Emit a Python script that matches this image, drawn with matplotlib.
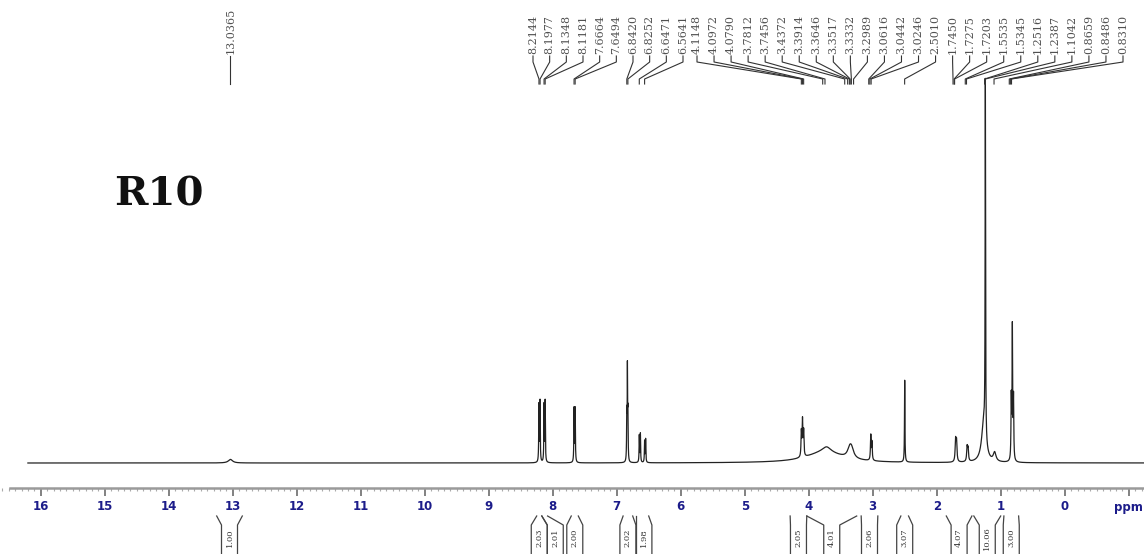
import numpy as np
import matplotlib.pyplot as plt
from matplotlib.ticker import MultipleLocator

W, H = 1144, 554

# reference scale: 16 ppm sits at x=40.7 px, 64 px per ppm
def ppm2px(p):
    return 40.7 + (16 - p) * 64.0

def px2ppm(px):
    return 16 - (px - 40.7) / 64.0

# peak list: shift (ppm), height (% of tallest), half width (ppm)
peak_ppm = [13.035, 8.215, 8.198, 8.135, 8.118, 7.666, 7.649, 6.842, 6.833, 6.825,
            6.647, 6.630, 6.564, 6.548, 4.115, 4.097, 4.079, 3.75, 3.72, 3.36, 3.33,
            3.030, 3.012, 2.50, 1.705, 1.690, 1.525, 1.510, 1.240, 1.265, 1.095,
            0.835, 0.818, 0.800]
peak_h = [1.0, 16, 17, 16, 17, 15, 15, 13, 24, 13,
          7.5, 8, 6, 6.5, 7, 10, 7, 3.0, 1.5, 2.3, 2.3,
          7, 5, 23, 6, 5.5, 4, 3.5, 100, 11, 2.5,
          17, 37, 17]
peak_w = [0.04, 0.004, 0.004, 0.004, 0.004, 0.004, 0.004, 0.004, 0.003, 0.004,
          0.004, 0.004, 0.004, 0.004, 0.006, 0.006, 0.006, 0.35, 0.08, 0.04, 0.04,
          0.006, 0.006, 0.004, 0.008, 0.008, 0.008, 0.008, 0.004, 0.04, 0.025,
          0.005, 0.005, 0.005]

# labels printed above the spectrum
label_13 = ["13.0365"]
labels_arom = ["8.2144", "8.1977", "8.1348", "8.1181", "7.6664", "7.6494", "6.8420",
               "6.8252", "6.6471", "6.5641"]
labels_aliph = ["4.1148", "4.0972", "4.0790", "3.7812", "3.7456", "3.4372", "3.3914",
                "3.3646", "3.3517", "3.3332", "3.2989", "3.0616", "3.0442", "3.0246",
                "2.5010", "1.7450", "1.7275", "1.7203", "1.5535", "1.5345", "1.2516",
                "1.2387", "1.1042", "0.8659", "0.8486", "0.8310"]

# integrals: ranges (ppm) and values
int_from = [13.25, 8.25, 8.17, 7.71, 6.90, 6.70, 4.29, 4.03, 3.18, 2.56, 1.85, 1.42, 0.95]
int_to = [12.85, 8.17, 8.08, 7.60, 6.75, 6.50, 4.03, 3.25, 2.92, 2.44, 1.45, 1.00, 0.72]
int_val = ["1.00", "2.03", "2.01", "2.00", "2.02", "1.98", "2.05", "4.01", "2.06",
           "3.07", "4.07", "10.06", "3.00"]

x = np.linspace(16.2, px2ppm(W), 40000)
y = np.zeros_like(x)
for c, h, w in zip(peak_ppm, peak_h, peak_w):
    y += h * w**2 / ((x - c)**2 + w**2)

fig = plt.figure(figsize=(W / 100, H / 100), dpi=100)
xl = (px2ppm(0), px2ppm(W))

def fy(py):
    return 1 - py / H

# spectrum
spec = fig.add_axes([0, fy(463), 1, fy(107) - fy(463)])
spec.plot(x, y, color="#222222", lw=0.9, clip_on=False)
spec.set_xlim(*xl)
spec.set_ylim(0, 100)
spec.axis("off")

# ppm scale
sc = fig.add_axes([0, fy(488), 1, 0.001])
sc.set_xlim(*xl)
for s in ["top", "left", "right"]:
    sc.spines[s].set_visible(False)
sc.spines["bottom"].set_color("#9a9a9a")
sc.spines["bottom"].set_linewidth(1.8)
sc.spines["bottom"].set_linestyle((0, (3, 1)))
sc.spines["bottom"].set_bounds(px2ppm(10), xl[1])
sc.set_yticks([])
sc.xaxis.set_minor_locator(MultipleLocator(0.1))
sc.tick_params(axis="x", which="major", length=6, width=1.3, color="#777777",
               labelsize=8.5, labelcolor="#1c1c8a", pad=3)
sc.tick_params(axis="x", which="minor", length=2, width=0.8, color="#aaaaaa")
tick_vals = list(range(16, -2, -1))
sc.set_xticks(tick_vals)
sc.set_xticklabels([str(v) for v in tick_vals[:-1]] + ["ppm"], fontweight="bold")

# overlay for annotations, in pixel coordinates
ov = fig.add_axes([0, 0, 1, 1])
ov.set_xlim(0, W)
ov.set_ylim(H, 0)
ov.axis("off")

def fan(labels, x0, x1):
    xs = np.linspace(x0, x1, len(labels))
    for lx, lab in zip(xs, labels):
        tx = ppm2px(float(lab))
        ov.text(lx, 54, lab, rotation=90, ha="center", va="bottom", fontsize=8,
                family="DejaVu Serif", color="#505050")
        ov.plot([lx, lx, tx, tx], [56, 62, 79, 84], color="#333333", lw=0.8)

fan(label_13, ppm2px(13.0365), ppm2px(13.0365))
fan(labels_arom, 533, 683)
fan(labels_aliph, 697, 1123)

# integrals under the scale
prev = -100
for a, b, v in zip(int_from, int_to, int_val):
    xa, xb = ppm2px(a), ppm2px(b)
    xc = max((xa + xb) / 2, prev + 16)
    prev = xc
    ov.plot([xa, xc - 8, xc - 8], [516, 525, 560], color="#444444", lw=0.9)
    ov.plot([xb, xc + 8, xc + 8], [516, 525, 560], color="#444444", lw=0.9)
    ov.text(xc, 538, v, rotation=90, ha="center", va="center", fontsize=6,
            family="DejaVu Serif", color="#333333")

ov.text(114, 194, "R10", fontsize=29, fontweight="bold", family="DejaVu Serif",
        ha="left", va="center", color="#111111")

fig.savefig("out.png", dpi=100)
